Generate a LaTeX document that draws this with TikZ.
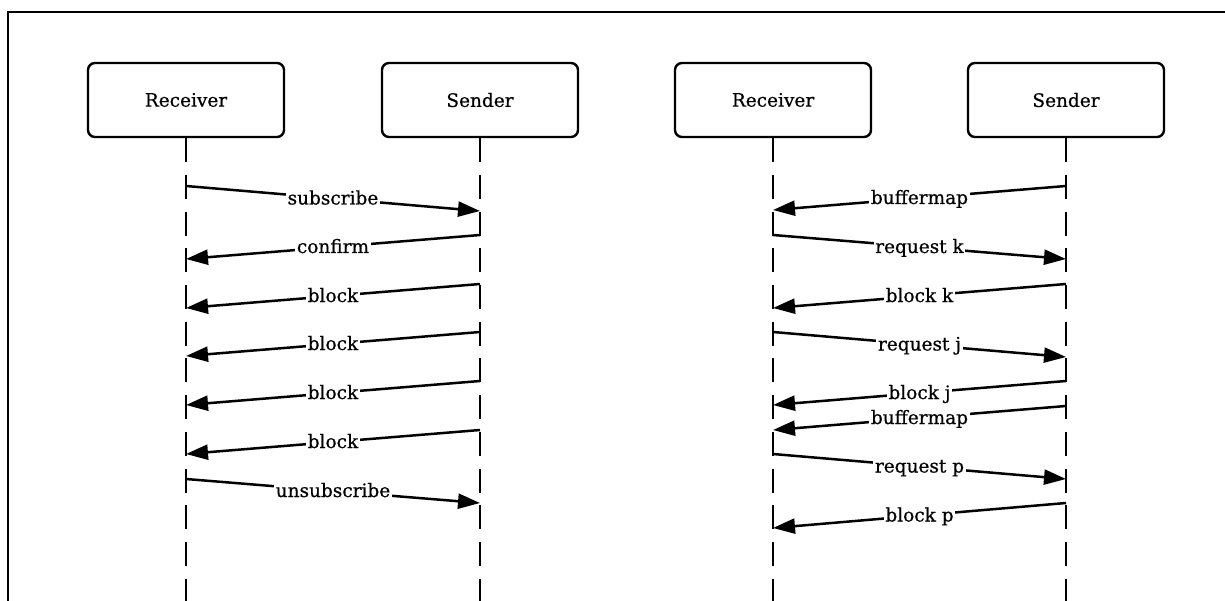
\documentclass[tikz,border=0pt]{standalone}
\usepackage{fontspec}
\setmainfont{DejaVu Serif}
\newfontfamily\slabfont{DejaVu Serif}[FakeBold=0.6]
\usetikzlibrary{arrows.meta}
\tikzset{
  actor/.style={draw, line width=2.4pt, rounded corners=7pt, minimum width=196pt, minimum height=74pt, inner sep=0pt, font=\slabfont\fontsize{18.5}{22}\selectfont},
  lifeline/.style={line width=2.5pt, dash pattern=on 24pt off 12.7pt},
  msg/.style={line width=2.5pt, -{Triangle[length=22pt,width=15pt]}},
  lbl/.style={fill=white, inner sep=1.5pt, text height=13pt, text depth=1pt, font=\slabfont\fontsize{18.5}{22}\selectfont},
  frameline/.style={line width=2.4pt}
}
\newcommand\seqmsg[6]{%
  \coordinate (#1a) at (#2,#3);
  \coordinate (#1b) at (#4,#5);
  \draw[msg] (#1a) -- node[lbl]{#6} (#1b);
}
\begin{document}
\begin{tikzpicture}[x=1pt,y=-1pt]
\useasboundingbox (0,0) rectangle (1225,601);
% frame
\coordinate (fa) at (8,605);
\coordinate (fb) at (8,12);
\coordinate (fc) at (1230,12);
\draw[frameline] (fa) -- (fb) -- (fc);
% actors
\node[actor] (r1) at (186,100) {Receiver};
\node[actor] (s1) at (480,100) {Sender};
\node[actor] (r2) at (773,100) {Receiver};
\node[actor] (s2) at (1066,100) {Sender};
% lifelines
\foreach \n in {r1,s1,r2,s2}{
  \coordinate (\n end) at ([yshift=-470pt]\n.south);
  \draw[lifeline] (\n.south) -- (\n end);
}
% left diagram
\seqmsg{l1}{186}{186}{480}{211}{subscribe}
\seqmsg{l2}{480}{235}{186}{259}{confirm}
\seqmsg{l3}{480}{284}{186}{308}{block}
\seqmsg{l4}{480}{332}{186}{356}{block}
\seqmsg{l5}{480}{381}{186}{405}{block}
\seqmsg{l6}{480}{430}{186}{454}{block}
\seqmsg{l7}{186}{479}{480}{503}{unsubscribe}
% right diagram
\seqmsg{q1}{1066}{186}{773}{210}{buffermap}
\seqmsg{q2}{773}{235}{1066}{259}{request k}
\seqmsg{q3}{1066}{284}{773}{308}{block k}
\seqmsg{q4}{773}{332}{1066}{357}{request j}
\seqmsg{q5}{1066}{381}{773}{405}{block j}
\seqmsg{q6}{1066}{406}{773}{430}{buffermap}
\seqmsg{q7}{773}{454}{1066}{479}{request p}
\seqmsg{q8}{1066}{503}{773}{528}{block p}
\end{tikzpicture}
\end{document}
